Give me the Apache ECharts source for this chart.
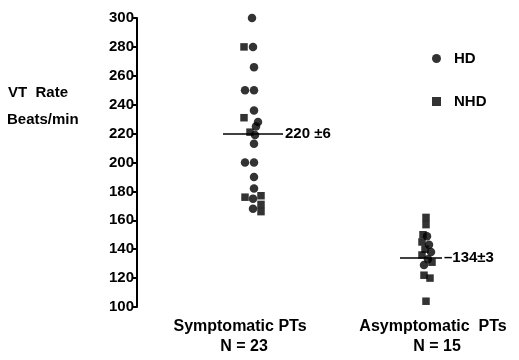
<!DOCTYPE html>
<html><head><meta charset="utf-8">
<script src="https://cdn.jsdelivr.net/npm/echarts@6/dist/echarts.min.js"></script>
<style>html,body{margin:0;padding:0;background:#fff}#c{width:519px;height:360px}</style>
</head><body><div id="c"></div>
<script>
// Y axis
var yTicks = [100,120,140,160,180,200,220,240,260,280,300];
// group names
var groups = ['Symptomatic PTs','Asymptomatic  PTs'];
var groupN = ['N = 23','N = 15'];
var groupCenters = [115, 289];
// Symptomatic patients: VT rate, type, horizontal jitter
var sympRate = [300,280,280,266,250,250,236,231,228,225,221,219,213,200,200,190,182,176,175,177,171,168,166];
var sympType = ['HD','NHD','HD','HD','HD','HD','HD','NHD','HD','HD','NHD','HD','HD','HD','HD','HD','HD','NHD','HD','NHD','NHD','HD','NHD'];
var sympJit  = [0,-8,1,2,-7,2,2,-8,6,4,-2,3,2,-7,2,2,2,-7,1,9,9,1,9];
// Asymptomatic patients
var asymRate = [162,157,150,149,145,143,140,138,136,133,131,129,122,120,104];
var asymType = ['NHD','NHD','NHD','HD','NHD','HD','NHD','HD','NHD','HD','NHD','HD','NHD','NHD','NHD'];
var asymJit  = [0,0,-3,1,-4,3,-1,5,-4,2,6,-2,-2,4,0];
// means
var means = [220,134];
var meanLabels = ['220 \u00b16','\u2013134\u00b13'];
var meanSpan = [[-29,31],[-26,16]];

function pts(rates, types, jit, center, t){
  var out=[];
  for(var i=0;i<rates.length;i++) if(types[i]===t) out.push([center+jit[i], rates[i]]);
  return out;
}
var hd = pts(sympRate,sympType,sympJit,groupCenters[0],'HD').concat(pts(asymRate,asymType,asymJit,groupCenters[1],'HD'));
var nhd = pts(sympRate,sympType,sympJit,groupCenters[0],'NHD').concat(pts(asymRate,asymType,asymJit,groupCenters[1],'NHD'));

var F = 'Liberation Sans, Arial, sans-serif';
var chart = echarts.init(document.getElementById('c'));
chart.setOption({
  animation:false,
  backgroundColor:'#fff',
  grid:{left:137,right:0,top:18,bottom:53},
  xAxis:{type:'value',min:0,max:382,show:false},
  yAxis:{type:'value',min:100,max:300,interval:20,
    axisLine:{show:true,lineStyle:{color:'#000',width:2}},
    axisTick:{show:true,inside:false,length:5,lineStyle:{color:'#000',width:2}},
    axisLabel:{color:'#000',fontFamily:F,fontWeight:'bold',fontSize:15,margin:3},
    splitLine:{show:false}},
  legend:{orient:'vertical',left:427,top:46,itemGap:28,itemWidth:9,itemHeight:9,
    textStyle:{color:'#000',fontFamily:F,fontWeight:'bold',fontSize:15,padding:[0,0,0,8]},
    data:[{name:'HD',icon:'circle'},{name:'NHD',icon:'rect'}]},
  series:[
    {name:'HD',type:'scatter',symbol:'circle',symbolSize:8.5,itemStyle:{color:'#000'},data:hd},
    {name:'NHD',type:'scatter',symbol:'rect',symbolSize:7.5,itemStyle:{color:'#000'},data:nhd},
    {name:'mean',type:'line',data:[],
      markLine:{symbol:'none',silent:true,lineStyle:{color:'#000',width:1.5,type:'solid'},
        label:{show:true,position:'end',color:'#000',fontFamily:F,fontWeight:'bold',fontSize:15,distance:2},
        data:means.map(function(m,i){return [
          {coord:[groupCenters[i]+meanSpan[i][0],m]},
          {coord:[groupCenters[i]+meanSpan[i][1],m],label:{formatter:meanLabels[i]}}];})}}
  ],
  graphic:[
    {type:'text',left:8,top:85,style:{text:'VT  Rate',font:'bold 15px '+F,fill:'#000'}},
    {type:'text',left:7,top:112,style:{text:'Beats/min',font:'bold 15px '+F,fill:'#000'}},
    {type:'text',x:240,y:319,style:{text:groups[0],font:'bold 16px '+F,fill:'#000',textAlign:'center'}},
    {type:'text',x:244,y:339,style:{text:groupN[0],font:'bold 16px '+F,fill:'#000',textAlign:'center'}},
    {type:'text',x:433,y:319,style:{text:groups[1],font:'bold 16px '+F,fill:'#000',textAlign:'center'}},
    {type:'text',x:437,y:339,style:{text:groupN[1],font:'bold 16px '+F,fill:'#000',textAlign:'center'}}
  ]
});
</script></body></html>
